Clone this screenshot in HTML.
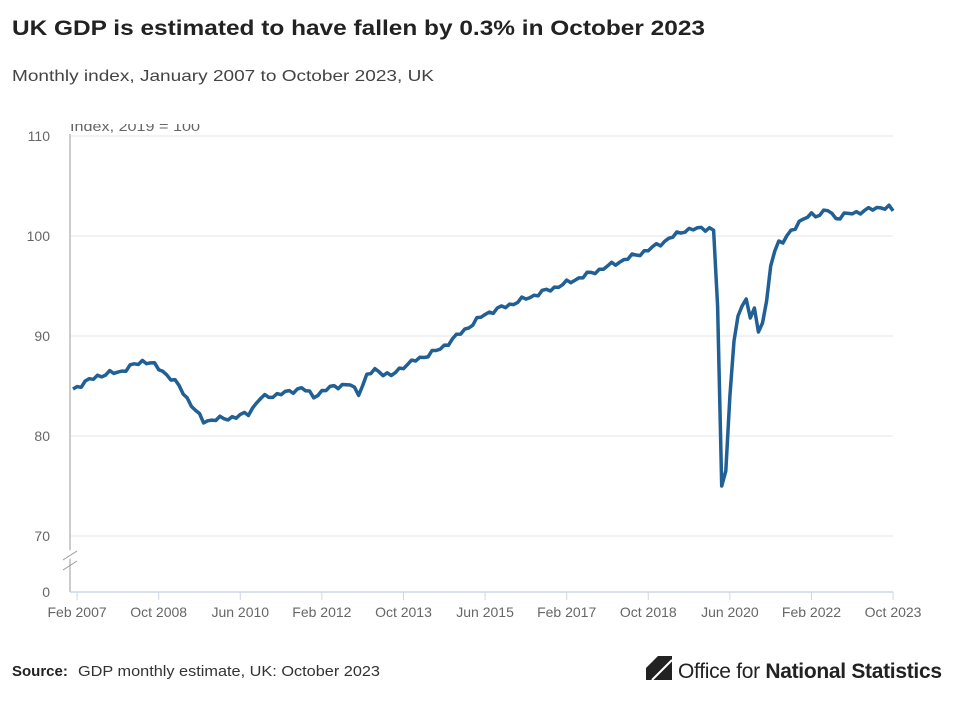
<!DOCTYPE html>
<html><head><meta charset="utf-8"><style>
body{margin:0;background:#fff;width:960px;height:697px;overflow:hidden;font-family:"Liberation Sans",sans-serif;}
</style></head><body>
<svg width="960" height="697" xmlns="http://www.w3.org/2000/svg" font-family="Liberation Sans, sans-serif">
<text x="12" y="35" font-size="21" font-weight="bold" fill="#222" textLength="693" lengthAdjust="spacingAndGlyphs">UK GDP is estimated to have fallen by 0.3% in October 2023</text>
<text x="12" y="81" font-size="16" fill="#444" textLength="422" lengthAdjust="spacingAndGlyphs">Monthly index, January 2007 to October 2023, UK</text>
<g stroke="#e6e6ea" stroke-width="1">
<line x1="70" x2="893" y1="136" y2="136"/><line x1="70" x2="893" y1="236" y2="236"/>
<line x1="70" x2="893" y1="336" y2="336"/><line x1="70" x2="893" y1="436" y2="436"/>
<line x1="70" x2="893" y1="536" y2="536"/>
</g>
<line x1="70" x2="70" y1="134" y2="592" stroke="#ccc" stroke-width="2"/>
<line x1="70" x2="893" y1="592" y2="592" stroke="#ccd6e6" stroke-width="1.5"/>
<line x1="63" x2="77" y1="557" y2="552" stroke="#fff" stroke-width="8"/>
<line x1="63" x2="77" y1="560" y2="551" stroke="#999" stroke-width="1"/>
<line x1="63" x2="77" y1="570" y2="561" stroke="#999" stroke-width="1"/>
<rect x="60" y="110" width="200" height="14" fill="#fff"/>
<text x="70" y="131" font-size="14" fill="#666" textLength="130" lengthAdjust="spacingAndGlyphs">Index, 2019 = 100</text>
<rect x="60" y="110" width="200" height="14" fill="#fff"/>
<g font-size="14" fill="#666" text-anchor="end">
<text x="50" y="141">110</text><text x="50" y="241">100</text><text x="50" y="341">90</text>
<text x="50" y="441">80</text><text x="50" y="541">70</text><text x="50" y="597">0</text>
</g>
<g id="xt" font-size="14" fill="#666" text-anchor="middle"></g>
<g id="tk" stroke="#ccd6e6" stroke-width="1"></g>
<path id="ln" fill="none" stroke="#206095" stroke-width="3.5" stroke-linejoin="round"/>
<text x="12" y="676" font-size="15" font-weight="bold" fill="#222">Source:</text>
<text x="78" y="676" font-size="15" fill="#333" textLength="302" lengthAdjust="spacingAndGlyphs">GDP monthly estimate, UK: October 2023</text>
<path d="M646 668 L658 656 L672 656 L672 680 L646 680 Z" fill="#222"/>
<path d="M652 680 L672 660" stroke="#fff" stroke-width="2"/>
<text x="678" y="678" font-size="21" fill="#222" letter-spacing="-0.3">Office for <tspan font-weight="bold">National Statistics</tspan></text>
</svg>
<script>
var lab=["Feb 2007","Oct 2008","Jun 2010","Feb 2012","Oct 2013","Jun 2015","Feb 2017","Oct 2018","Jun 2020","Feb 2022","Oct 2023"];
var X=function(m){return 73+m*4.08;};
var xt=document.getElementById('xt'),tk=document.getElementById('tk'),s="",t="";
for(var i=0;i<11;i++){var m=1+i*20;if(i==10)m=201;var x=X(m);
s+='<text x="'+x+'" y="617">'+lab[i]+'</text>';t+='<line x1="'+x+'" x2="'+x+'" y1="592" y2="600"/>';}
xt.innerHTML=s;tk.innerHTML=t;
var a=[[0,84.7],[6,86],[12,86.5],[17,87.5],[19,87.3],[22,86.5],[26,85],[30,82.5],[32,81.5],[36,81.7],[40,81.9],[43,82.3],[46,83.8],[52,84.3],[56,84.8],[59,84.0],[64,85.0],[68,85.1],[70,84.3],[72,86.0],[74,86.6],[78,86.0],[81,87.0],[90,88.7],[101,92.2],[121,95.3],[141,98.6],[150,100.6],[156,100.8],[157,100.5],[158,93],[159,75],[160,76.5],[161,84],[162,89.5],[163,92],[164,93],[165,93.7],[166,91.8],[167,92.8],[168,90.4],[169,91.3],[170,93.5],[171,97],[172,98.5],[173,99.5],[174,99.3],[176,100.6],[178,101.3],[181,102.2],[183,102.1],[185,102.6],[187,101.8],[190,102.2],[195,102.6],[198,102.9],[200,102.8],[201,102.5]];
function v(m){for(var i=0;i<a.length-1;i++){if(m>=a[i][0]&&m<=a[i+1][0]){var f=(m-a[i][0])/(a[i+1][0]-a[i][0]);return a[i][1]+f*(a[i+1][1]-a[i][1]);}}return a[a.length-1][1];}
var d="";for(var m=0;m<=201;m++){var j=(m>157&&m<175)?0:(Math.sin(m*2.3)*0.18+Math.sin(m*5.1)*0.12);
var y=236-(v(m)+j-100)*10;d+=(m?"L":"M")+X(m).toFixed(1)+" "+y.toFixed(1);}
document.getElementById('ln').setAttribute('d',d);
</script>
</body></html>
